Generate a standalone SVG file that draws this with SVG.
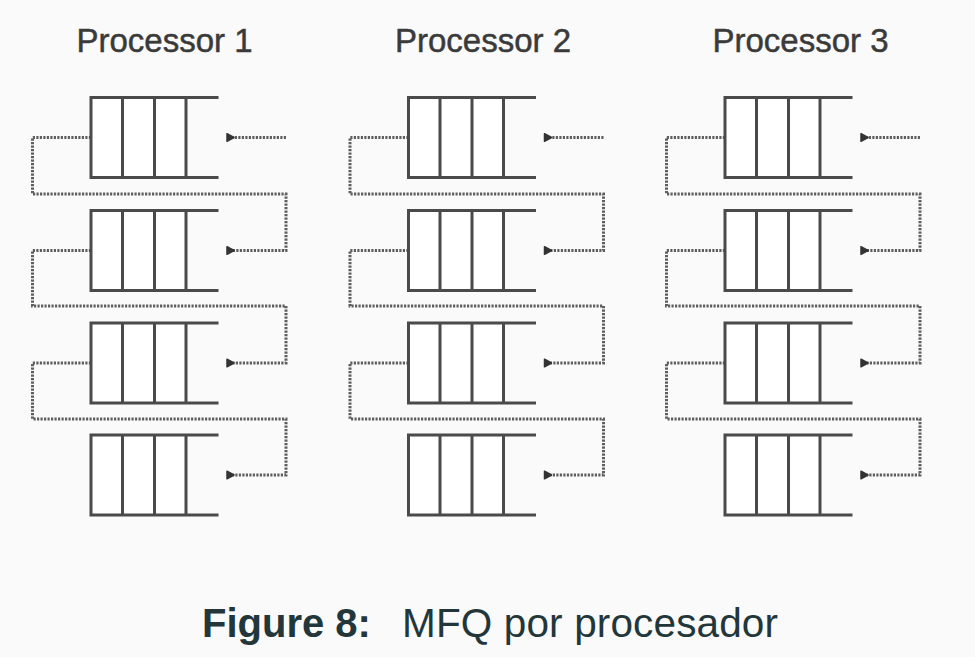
<svg xmlns="http://www.w3.org/2000/svg" xmlns:xlink="http://www.w3.org/1999/xlink" width="975" height="657" viewBox="0 0 975 657">
<style>
.bg{fill:#fafafa}
.title{font-family:"Liberation Sans",Arial,sans-serif;font-size:33px;fill:#3a3a3a;stroke:#3a3a3a;stroke-width:0.5;text-anchor:middle}
.cap{font-family:"Liberation Sans",Arial,sans-serif;font-size:40px;fill:#23373b}
.qfill{fill:#ffffff;stroke:none}
.qline{fill:none;stroke:#4a4a4a;stroke-width:3;stroke-linecap:square}
.conn{fill:none;stroke:#5e5e5e;stroke-width:3;stroke-dasharray:2.2 1.3}
</style>
<defs>
<marker id="ah" viewBox="0 0 10 10" refX="2" refY="5" markerWidth="10" markerHeight="10" markerUnits="userSpaceOnUse" orient="auto-start-reverse">
<path d="M1,5 L8,1.2 L8,8.8 Z" fill="#333" stroke="#333" stroke-width="1.5" stroke-linejoin="round"/>
</marker>
<g id="q">
<rect class="qfill" x="91" y="0" width="95" height="80"/>
<path class="qline" d="M217,0 H91 V80 H217 M122.5,0 V80 M154.5,0 V80 M186,0 V80"/>
</g>
</defs>
<rect class="bg" x="0" y="0" width="975" height="657"/>

<g id="connectors">
<g id="conn-p1">
<path class="conn" marker-end="url(#ah)" d="M286,137.5 H233"/>
<path class="conn" marker-end="url(#ah)" d="M91,137.5 H32.5 V194 H286 V250.5 H233"/>
<path class="conn" marker-end="url(#ah)" d="M91,250.5 H32.5 V306 H286 V363 H233"/>
<path class="conn" marker-end="url(#ah)" d="M91,363 H32.5 V419 H286 V475 H233"/>
</g>
<g id="conn-p2" transform="translate(317.5,0)">
<path class="conn" marker-end="url(#ah)" d="M286,137.5 H233"/>
<path class="conn" marker-end="url(#ah)" d="M91,137.5 H32.5 V194 H286 V250.5 H233"/>
<path class="conn" marker-end="url(#ah)" d="M91,250.5 H32.5 V306 H286 V363 H233"/>
<path class="conn" marker-end="url(#ah)" d="M91,363 H32.5 V419 H286 V475 H233"/>
</g>
<g id="conn-p3" transform="translate(634,0)">
<path class="conn" marker-end="url(#ah)" d="M286,137.5 H233"/>
<path class="conn" marker-end="url(#ah)" d="M91,137.5 H32.5 V194 H286 V250.5 H233"/>
<path class="conn" marker-end="url(#ah)" d="M91,250.5 H32.5 V306 H286 V363 H233"/>
<path class="conn" marker-end="url(#ah)" d="M91,363 H32.5 V419 H286 V475 H233"/>
</g>
</g>

<g id="p1">
<text class="title" x="164.5" y="52">Processor 1</text>
<g id="p1-q1" transform="translate(0,97.5)"><use xlink:href="#q"/></g>
<g id="p1-q2" transform="translate(0,210.5)"><use xlink:href="#q"/></g>
<g id="p1-q3" transform="translate(0,323)"><use xlink:href="#q"/></g>
<g id="p1-q4" transform="translate(0,435)"><use xlink:href="#q"/></g>
</g>
<g id="p2">
<text class="title" x="483" y="52">Processor 2</text>
<g id="p2-q1" transform="translate(317.5,97.5)"><use xlink:href="#q"/></g>
<g id="p2-q2" transform="translate(317.5,210.5)"><use xlink:href="#q"/></g>
<g id="p2-q3" transform="translate(317.5,323)"><use xlink:href="#q"/></g>
<g id="p2-q4" transform="translate(317.5,435)"><use xlink:href="#q"/></g>
</g>
<g id="p3">
<text class="title" x="800.5" y="52">Processor 3</text>
<g id="p3-q1" transform="translate(634,97.5)"><use xlink:href="#q"/></g>
<g id="p3-q2" transform="translate(634,210.5)"><use xlink:href="#q"/></g>
<g id="p3-q3" transform="translate(634,323)"><use xlink:href="#q"/></g>
<g id="p3-q4" transform="translate(634,435)"><use xlink:href="#q"/></g>
</g>

<text class="cap" y="636.5"><tspan x="202" font-weight="bold">Figure 8:</tspan><tspan x="402" font-size="40.5" textLength="376" lengthAdjust="spacing">MFQ por procesador</tspan></text>
</svg>
